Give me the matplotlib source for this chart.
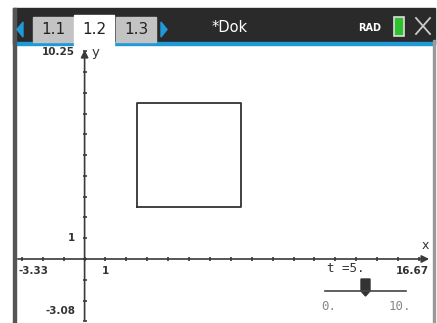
import matplotlib
matplotlib.use("Agg")
import matplotlib.pyplot as plt
from matplotlib.patches import Rectangle, Polygon

# window / data
x_min, x_max = -3.33, 16.67
y_min, y_max = -3.08, 10.25
t_min, t_max, t = 0, 10, 5
# square with side t centred at (5, 5)
square_x = [2.5, 7.5, 7.5, 2.5, 2.5]
square_y = [2.5, 2.5, 7.5, 7.5, 2.5]
x_ticks = list(range(-3, 17))
y_ticks = list(range(-3, 11))
tabs = ["1.1", "1.2", "1.3"]

W, H = 437, 323
fig = plt.figure(figsize=(W / 100, H / 100), dpi=100)
fig.patch.set_facecolor("white")

# graph area (pixel box 15..433 x 46..323)
ax = fig.add_axes([15 / W, 0, (433 - 15) / W, (323 - 46) / H])
ax.set_xlim(x_min, x_max)
ax.set_ylim(y_min, y_max)
ax.axis("off")

axis_col = "#3a3a3a"
ax.annotate("", xy=(x_max - 0.05, 0), xytext=(x_min, 0),
            arrowprops=dict(arrowstyle="-|>", color=axis_col, lw=1.2, mutation_scale=11))
ax.annotate("", xy=(0, y_max - 0.05), xytext=(0, y_min),
            arrowprops=dict(arrowstyle="-|>", color=axis_col, lw=1.2, mutation_scale=11))
ax.plot(x_ticks, [0] * len(x_ticks), ls="none", marker="|", ms=3, mew=1.2, color=axis_col)
ax.plot([0] * len(y_ticks), y_ticks, ls="none", marker="_", ms=3, mew=1.2, color=axis_col)

# the square
ax.plot(square_x, square_y, color="#333333", lw=1.3)

lab = dict(fontsize=7.5, fontweight="bold", color="#333333")
ax.text(-0.45, y_max - 0.3, "10.25", ha="right", va="center", **lab)
ax.text(0.35, y_max - 0.3, "y", ha="left", va="center", fontsize=9.5, color="#333333")
ax.text(-0.45, 1, "1", ha="right", va="center", **lab)
ax.text(1, -0.35, "1", ha="center", va="top", **lab)
ax.text(x_min + 0.15, -0.35, "-3.33", ha="left", va="top", **lab)
ax.text(x_max - 0.2, -0.35, "16.67", ha="right", va="top", **lab)
ax.text(x_max - 0.2, 0.35, "x", ha="right", va="bottom", fontsize=9, color="#333333")
ax.text(-0.45, y_min + 0.6, "-3.08", ha="right", va="center", **lab)

# window chrome, in pixel coordinates
ui = fig.add_axes([0, 0, 1, 1])
ui.set_xlim(0, W)
ui.set_ylim(H, 0)
ui.axis("off")
ui.patch.set_alpha(0)

dark = "#2a2a2a"
blue = "#1f9ad6"
ui.add_patch(Rectangle((13, 8), 422, 35, color=dark))
ui.add_patch(Rectangle((13, 41.5), 422, 3.5, color=blue))
ui.add_patch(Rectangle((13, 8), 2.5, H, color="#555555"))
ui.add_patch(Rectangle((433, 40), 1.5, H, color="#999999"))

tab_left = [33, 74, 116]
for i, name in enumerate(tabs):
    x0 = tab_left[i]
    if i == 1:
        ui.add_patch(Rectangle((x0, 15), 40, 32, color="white"))
    else:
        ui.add_patch(Rectangle((x0, 17), 40, 24.5, color="#c3c3c3"))
    ui.text(x0 + 20, 30, name, ha="center", va="center", fontsize=11, color="#222222")

ui.add_patch(Polygon([[23, 22], [23, 37], [17, 29.5]], color=blue))
ui.add_patch(Polygon([[161, 22], [161, 37], [167, 29.5]], color=blue))
ui.text(230, 27, "*Dok", ha="center", va="center", fontsize=10.5, color="white")
ui.text(370, 28, "RAD", ha="center", va="center", fontsize=7, fontweight="bold", color="white")
ui.add_patch(Rectangle((394, 17), 10, 19, facecolor="#2ec02e", edgecolor="#dddddd", lw=1.2))
ui.plot([416, 430], [18, 34], color="#cccccc", lw=1.3)
ui.plot([416, 430], [34, 18], color="#cccccc", lw=1.3)

# slider for t
sl_x0, sl_x1, sl_y = 325, 406, 291
ui.plot([sl_x0, sl_x1], [sl_y, sl_y], color="#444444", lw=1.2)
tx = sl_x0 + (t - t_min) / (t_max - t_min) * (sl_x1 - sl_x0)
ui.add_patch(Polygon([[tx - 4.5, 279], [tx + 4.5, 279], [tx + 4.5, 291],
                      [tx, 296], [tx - 4.5, 291]], color="#333333"))
ui.text(327, 268, "t =%d." % t, ha="left", va="center", fontsize=9,
        family="DejaVu Sans Mono", color="#333333")
ui.text(sl_x0 - 4, 307, f"{t_min}.", ha="left", va="center", fontsize=9,
        family="DejaVu Sans Mono", color="#888888")
ui.text(sl_x1 + 5, 307, f"{t_max}.", ha="right", va="center", fontsize=9,
        family="DejaVu Sans Mono", color="#888888")

fig.savefig("out.png", dpi=100)
